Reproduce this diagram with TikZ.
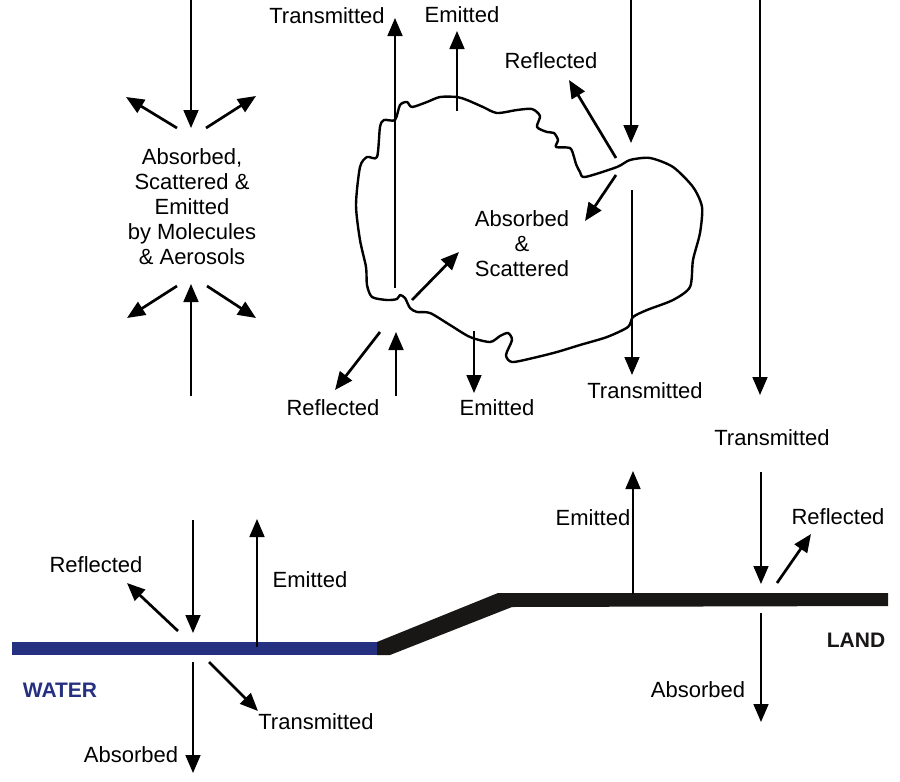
\documentclass[tikz,border=0pt]{standalone}
\usepackage{fontspec}
\setmainfont{Liberation Sans}
\usepackage{tikz}
\usetikzlibrary{arrows.meta}
\definecolor{waterblue}{RGB}{38,48,128}
\definecolor{landblack}{RGB}{25,22,22}

\begin{document}
\begin{tikzpicture}[
    x=1pt, y=-1pt,
    lbl/.style={font=\fontsize{22}{25}\selectfont, align=center, inner sep=0pt},
    arr/.style={-{Triangle[length=18pt, width=15pt]}, line width=1.7pt},
    darr/.style={-{Triangle[length=18pt, width=15pt]}, line width=2.7pt},
    cloudline/.style={line width=2.4pt, line join=round}
]
\useasboundingbox (0,0) rectangle (900,782);

% atmosphere: molecules and aerosols
\node[lbl] (atmos) at (192,207) {Absorbed,\\Scattered \&\\Emitted\\by Molecules\\\& Aerosols};
\draw[arr] (191,0) -- (191,128);
\draw[darr] (177,128) -- (126,97);
\draw[darr] (206,128) -- (256,96);
\draw[arr] (191,396) -- (191,284);
\draw[darr] (177,286) -- (127,318);
\draw[darr] (207,286) -- (256,318);

% cloud
\draw[cloudline] plot[smooth cycle, tension=0.45] coordinates {
  (395,120) (400,105) (407,102) (412,107) (427,102) (440,97) (457,97)
  (467,100) (483,107) (497,113) (517,110) (532,109) (540,116) (537,127)
  (547,132) (554,133) (558,140) (556,147) (570,148) (574,157) (576,164)
  (580,172) (585,177) (617,167) (630,160) (650,158) (673,167) (693,187)
  (702,207) (700,233) (693,260) (690,287) (673,300) (647,310) (633,317)
  (628,327) (607,337) (580,345) (557,352) (533,358) (512,362) (506,355)
  (512,340) (508,333) (500,336) (490,342) (470,337) (450,325) (430,313)
  (417,312) (410,308) (405,298) (400,295) (397,299) (387,300) (372,297)
  (367,285) (366,267) (360,240) (356,205) (360,167) (367,157) (377,157)
  (380,127) (384,120)};
\node[lbl] (inside) at (522,244) {Absorbed\\\&\\Scattered};

\draw[arr] (395,288) -- (395,18);
\node[lbl] (ctrans) at (327,16) {Transmitted};
\draw[arr] (457,111) -- (457,31);
\node[lbl] (cemit) at (462,15) {Emitted};
\draw[darr] (616,158) -- (569,80);
\node[lbl] (crefl) at (551,61) {Reflected};
\draw[arr] (631,0) -- (631,143);
\draw[darr] (616,175) -- (585,221);
\draw[arr] (632,190) -- (632,375);
\node[lbl] (ctrans2) at (645,391) {Transmitted};
\draw[darr] (412,300) -- (459,252);
\draw[darr] (380,332) -- (335,390);
\node[lbl] (crefl2) at (333,408) {Reflected};
\draw[arr] (396,396) -- (396,332);
\draw[arr] (474,331) -- (474,393);
\node[lbl] (cemit2) at (497,408) {Emitted};

% clear sky
\draw[arr] (760,0) -- (760,395);
\node[lbl] (strans) at (772,438) {Transmitted};

% surfaces
\fill[waterblue] (12,642) rectangle (379,655);
\fill[landblack] (377,642) -- (498,593) -- (888,593) -- (888,606)
  -- (512,607) -- (390,655) -- (377,655) -- cycle;
\node[lbl, font=\fontsize{21}{23}\selectfont\bfseries, text=waterblue] (water) at (60,690) {WATER};
\node[lbl, font=\fontsize{21}{23}\selectfont\bfseries, text=landblack] (land) at (856,640) {LAND};

% water
\draw[arr] (193,520) -- (193,633);
\draw[darr] (178,631) -- (127,583);
\node[lbl] (wrefl) at (96,565) {Reflected};
\draw[arr] (257,647) -- (257,519);
\node[lbl] (wemit) at (310,580) {Emitted};
\draw[arr] (193,662) -- (193,773);
\node[lbl] (wabs) at (131,755) {Absorbed};
\draw[darr] (209,662) -- (258,711);
\node[lbl] (wtrans) at (316,722) {Transmitted};

% land
\draw[arr] (633,594) -- (633,471);
\node[lbl] (lemit) at (593,518) {Emitted};
\draw[arr] (761,472) -- (761,584);
\draw[darr] (777,583) -- (811,534);
\node[lbl] (lrefl) at (838,517) {Reflected};
\draw[arr] (761,613) -- (761,722);
\node[lbl] (labs) at (698,690) {Absorbed};
\end{tikzpicture}
\end{document}
